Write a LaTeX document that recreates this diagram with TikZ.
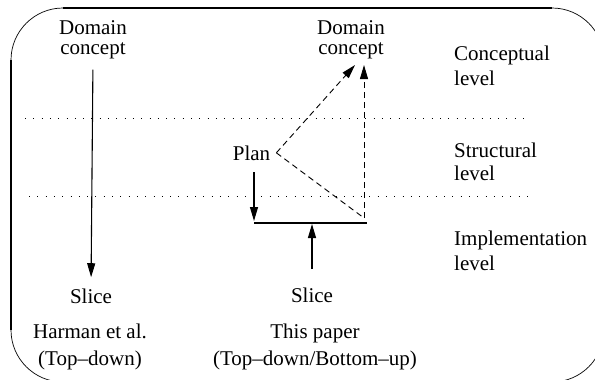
\documentclass[tikz,border=0pt]{standalone}
\usepackage{fontspec}
\setmainfont{Liberation Serif}
\usetikzlibrary{arrows.meta,calc}
\begin{document}
\begin{tikzpicture}[x=1pt,y=-1pt,
  every node/.style={inner sep=0pt,font=\fontsize{21}{20}\selectfont},
  lbl/.style={align=center,anchor=base},
  lvl/.style={align=left,anchor=base west,font=\fontsize{21}{25}\selectfont},
  arr/.style={line width=1.1pt,-{Triangle[length=14pt,width=8pt]}},
  darr/.style={line width=0.9pt,dash pattern=on 6pt off 4pt,-{Triangle[length=14pt,width=8pt]}},
  dline/.style={line width=0.9pt,dash pattern=on 6pt off 4pt},
  dotline/.style={line width=0.9pt,dash pattern=on 1pt off 7.3pt},
  frame/.style={line width=0.7pt,rounded corners=52pt},
  frameedge/.style={line width=2.4pt}]
\useasboundingbox (0,0) rectangle (595,380);
\clip (0,0) rectangle (595,380);

% rounded outer frame, straight sides heavier than the corners
\draw[frame] (11,8) rectangle (604,382);
\draw[frameedge] (63,8) -- (552,8);
\draw[frameedge] (11,60) -- (11,330);

% level separators
\draw[dotline] (25,118) -- (525,118);
\draw[dotline] (29,196) -- (530,196);

% left column: top-down slicing (base anchor = last line's baseline)
\node[lbl] (dcL) at (93,54) {Domain\\concept};
\node[lbl] (sliceL) at (91,303) {Slice};
\node[lbl,font=\fontsize{21}{27}\selectfont] (harman) at (90,365) {Harman et al.\\(Top--down)};
\draw[arr,shorten <=11pt,shorten >=11pt] (dcL.south) -- (sliceL.north);

% middle column: combined approach
\node[lbl] (dcR) at (351,54) {Domain\\concept};
\node[lbl,inner xsep=6pt] (plan) at (251.5,160) {Plan};
\node[lbl] (sliceR) at (312,302) {Slice};
\node[lbl,font=\fontsize{21}{27}\selectfont] (paper) at (315,365) {This paper\\(Top--down/Bottom--up)};

\coordinate (barL) at (254,223);
\coordinate (barR) at (367,223);
\coordinate (barM) at (312,223);
\coordinate (corner) at (364,218);
\coordinate (tipA) at (355,65);
\coordinate (tipB) at (364,65);

\draw[line width=1.2pt] (barL) -- (barR);
\draw[arr,shorten <=12pt,shorten >=2pt] (plan.south -| barL) -- (barL);
\draw[arr,shorten <=18pt,shorten >=1pt] (sliceR.north) -- (barM);
\draw[darr] (plan.east) -- (tipA);
\draw[dline] (plan.east) -- (corner);
\draw[darr] (corner) -- (tipB);

% level names
\node[lvl] (concl) at (454,85) {Conceptual\\level};
\node[lvl,font=\fontsize{21}{23}\selectfont] (strl) at (454,180) {Structural\\level};
\node[lvl] (impl) at (454,270) {Implementation\\level};
\end{tikzpicture}
\end{document}
